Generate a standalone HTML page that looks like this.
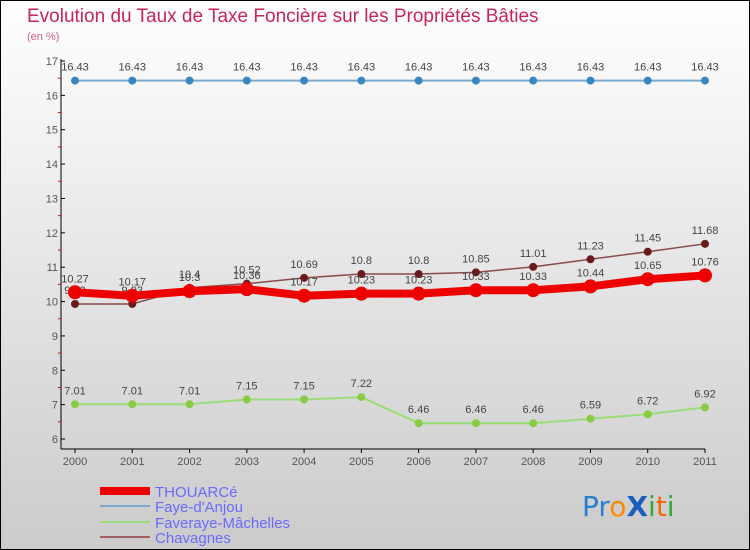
<!DOCTYPE html>
<html><head><meta charset="utf-8"><style>
body{margin:0}
svg{display:block;font-family:"Liberation Sans",sans-serif}
</style></head><body>
<svg id="c" width="750" height="550">
<defs><linearGradient id="bg" x1="0" y1="0" x2="0" y2="1"><stop offset="0" stop-color="#ffffff"/><stop offset="1" stop-color="#cbcbcb"/></linearGradient></defs>
<rect x="0.5" y="0.5" width="749" height="549" fill="url(#bg)" stroke="#000"/>
<text x="27" y="22" font-size="19" fill="#c8245a">Evolution du Taux de Taxe Foncière sur les Propriétés Bâties</text>
<text x="27" y="40" font-size="11" fill="#d0608a">(en %)</text>
<g id="axes"></g><g id="series"></g>
<g>
<line x1="100" y1="491" x2="150" y2="491" stroke="#e00" stroke-width="8"/>
<text x="155" y="497" font-size="15" fill="#6a6aff">THOUARCé</text>
<line x1="100" y1="506" x2="150" y2="506" stroke="#7aaad0" stroke-width="2"/>
<text x="155" y="512" font-size="15" fill="#6a6aff">Faye-d'Anjou</text>
<line x1="100" y1="522" x2="150" y2="522" stroke="#99dd77" stroke-width="2"/>
<text x="155" y="528" font-size="15" fill="#6a6aff">Faveraye-Mâchelles</text>
<line x1="100" y1="537" x2="150" y2="537" stroke="#a06060" stroke-width="2"/>
<text x="155" y="543" font-size="15" fill="#6a6aff">Chavagnes</text>
</g>
<text x="582" y="516" font-size="28" font-family="'DejaVu Sans',sans-serif"><tspan fill="#2a7fd0">Pr</tspan><tspan fill="#ff8800">o</tspan><tspan fill="#1a5fc0" font-weight="bold">X</tspan><tspan fill="#33aa33">i</tspan><tspan fill="#ff6600">t</tspan><tspan fill="#33aa33">i</tspan></text>
</svg>
<script>
const years=["2000","2001","2002","2003","2004","2005","2006","2007","2008","2009","2010","2011"];
const yTicks=[6,7,8,9,10,11,12,13,14,15,16,17];
const thouarce=[10.27,10.17,10.3,10.36,10.17,10.23,10.23,10.33,10.33,10.44,10.65,10.76];
const faye=[16.43,16.43,16.43,16.43,16.43,16.43,16.43,16.43,16.43,16.43,16.43,16.43];
const faveraye=[7.01,7.01,7.01,7.15,7.15,7.22,6.46,6.46,6.46,6.59,6.72,6.92];
const chavagnes=[9.93,9.93,10.4,10.52,10.69,10.8,10.8,10.85,11.01,11.23,11.45,11.68];
const NS="http://www.w3.org/2000/svg";
const X=i=>75+i*(705-75)/(years.length-1);
const Y=v=>439-(v-6)*(439-61)/11;
function mk(t,a,p){const e=document.createElementNS(NS,t);for(const k in a)e.setAttribute(k,a[k]);p.appendChild(e);return e;}
const ax=document.getElementById('axes');
const yl=mk('line',{x1:61,y1:59,x2:61,y2:449,stroke:'#000'},ax);


const xl=mk('line',{x1:61,y1:449,x2:705,y2:449,stroke:'#000'},ax);


yTicks.forEach(v=>{
 mk('line',{x1:61,y1:Y(v),x2:65,y2:Y(v),stroke:'#000'},ax);
 if(v<17)mk('line',{x1:58,y1:Y(v+0.5),x2:61,y2:Y(v+0.5),stroke:'#e00'},ax);
 const t=mk('text',{x:58,y:Y(v)+4,'font-size':11,fill:'#555','text-anchor':'end'},ax);t.textContent=v;
 
 
});
years.forEach((y,i)=>{
 mk('line',{x1:X(i),y1:449,x2:X(i),y2:453,stroke:'#000'},ax);
 const t=mk('text',{x:X(i),y:465,'font-size':11,fill:'#555','text-anchor':'middle'},ax);t.textContent=y;
 
 
});
const sg=document.getElementById('series');
function series(vals,name,color,w,r,dot){
 const g=mk('g',{},sg);
 
 
 const pl=mk('polyline',{points:vals.map((v,i)=>X(i)+','+Y(v)).join(' '),fill:'none',stroke:color,'stroke-width':w},g);
 vals.forEach((v,i)=>{
  const c=mk('circle',{cx:X(i),cy:Y(v),r:r,fill:dot},g);
  
  
  const t=mk('text',{x:X(i),y:Y(v)-10,'font-size':11,fill:'#444','text-anchor':'middle'},g);t.textContent=v;
  
  
 });
}
series(faye,'faye-d-anjou-series','#7aaad0',2,4,'#3a86c0');
series(faveraye,'faveraye-machelles-series','#99dd77',2,4,'#88cc44');
series(chavagnes,'chavagnes-series','#8a4a4a',1.5,4,'#6a1a1a');
series(thouarce,'thouarce-series','#ee0000',8,7,'#ee0000');
</script>
</body></html>
